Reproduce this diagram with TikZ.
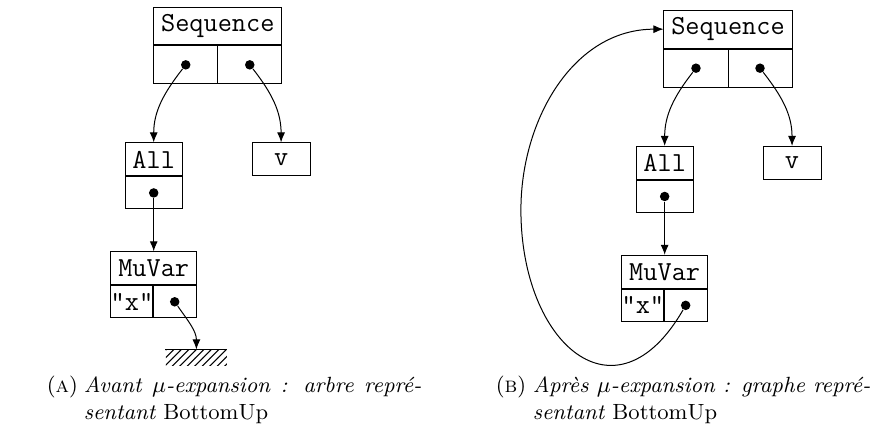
\documentclass[tikz,border=0pt]{standalone}
\usepackage{tikz}
\usetikzlibrary{arrows.meta}
\usetikzlibrary{patterns}
\usepackage{amsmath}

\tikzset{
  box/.style={draw, inner sep=0pt, minimum height=13.2pt, font=\fontsize{11}{13}\selectfont\ttfamily},
  ptr/.style={circle, fill, inner sep=0pt, minimum size=3.8pt},
  gnd/.style={inner sep=0pt, minimum width=24.4pt, minimum height=6.4pt, pattern=north east lines, anchor=north},
  capt/.style={inner sep=0pt, anchor=base west, font=\fontsize{8.8}{10.8}\selectfont},
  >={Latex[length=4pt,width=3.2pt]}
}

\begin{document}
\begin{tikzpicture}
  \useasboundingbox (0,0) rectangle (12.31,-6.09);
  % (a) avant
  \node[box, minimum width=51.2pt, minimum height=14.8pt] (seqA) at (3.06,-0.37) {Sequence};
  \node[box, minimum width=25.6pt, minimum height=15.2pt, anchor=north west] (seqA-l) at (seqA.south west) {};
  \node[box, minimum width=25.6pt, minimum height=15.2pt, anchor=north east] (seqA-r) at (seqA.south east) {};
  \node[box, minimum width=22.8pt] (allA) at (2.16,-2.24) {All};
  \node[box, minimum width=22.8pt, minimum height=12.8pt, anchor=north] (allA-c) at (allA.south) {};
  \node[box, minimum width=23.2pt] (vA) at (3.95,-2.24) {v};
  \node[box, minimum width=34.4pt] (muA) at (2.16,-3.77) {MuVar};
  \node[box, minimum width=16.8pt, minimum height=12.8pt, anchor=north west] (muA-l) at (muA.south west) {"x"};
  \node[box, minimum width=17.6pt, minimum height=12.8pt, anchor=north east] (muA-r) at (muA.south east) {};
  \node[gnd] (gndA) at (2.76,-4.91) {};
  \draw (gndA.north west) -- (gndA.north east);
  \foreach \c in {seqA-l,seqA-r,allA-c,muA-r}
    \node[ptr] (\c-p) at (\c) {};
  \path[->]
    (seqA-l-p) edge [out=-128,in=90] (allA.north)
    (seqA-r-p) edge [out=-52,in=90] (vA.north)
    (allA-c-p) edge (muA.north)
    (muA-r-p) edge [out=-55,in=90] (gndA.north);

  % (b) apres
  \node[box, minimum width=51.2pt, minimum height=15.2pt] (seqB) at (10.23,-0.41) {Sequence};
  \node[box, minimum width=25.6pt, minimum height=15.2pt, anchor=north west] (seqB-l) at (seqB.south west) {};
  \node[box, minimum width=25.6pt, minimum height=15.2pt, anchor=north east] (seqB-r) at (seqB.south east) {};
  \node[box, minimum width=22.8pt] (allB) at (9.34,-2.29) {All};
  \node[box, minimum width=22.8pt, minimum height=12.8pt, anchor=north] (allB-c) at (allB.south) {};
  \node[box, minimum width=23.2pt] (vB) at (11.13,-2.29) {v};
  \node[box, minimum width=34.4pt] (muB) at (9.34,-3.82) {MuVar};
  \node[box, minimum width=16.8pt, minimum height=12.8pt, anchor=north west] (muB-l) at (muB.south west) {"x"};
  \node[box, minimum width=17.6pt, minimum height=12.8pt, anchor=north east] (muB-r) at (muB.south east) {};
  \foreach \c in {seqB-l,seqB-r,allB-c,muB-r}
    \node[ptr] (\c-p) at (\c) {};
  \path[->]
    (seqB-l-p) edge [out=-128,in=90] (allB.north)
    (seqB-r-p) edge [out=-52,in=90] (vB.north)
    (allB-c-p) edge (muB.north);
  % boucle du mu
  \coordinate (loopB) at (7.32,-2.95);
  \draw[->] (muB-r-p) to[out=-120,in=-90,looseness=1.8] (loopB)
    to[out=90,in=180] (seqB.west);

  % legendes
  \node[capt] (labA) at (0.65,-5.52) {(\textsc{a})};
  \node[capt, align=left] (capA) at (1.17,-5.90)
    {\makebox[135pt][s]{\itshape Avant $\mu$-expansion : arbre repré-}\\\itshape sentant \upshape BottomUp};
  \node[capt] (labB) at (6.96,-5.52) {(\textsc{b})};
  \node[capt, align=left] (capB) at (7.48,-5.90)
    {\makebox[135pt][s]{\itshape Après $\mu$-expansion : graphe repré-}\\\itshape sentant \upshape BottomUp};
\end{tikzpicture}
\end{document}
